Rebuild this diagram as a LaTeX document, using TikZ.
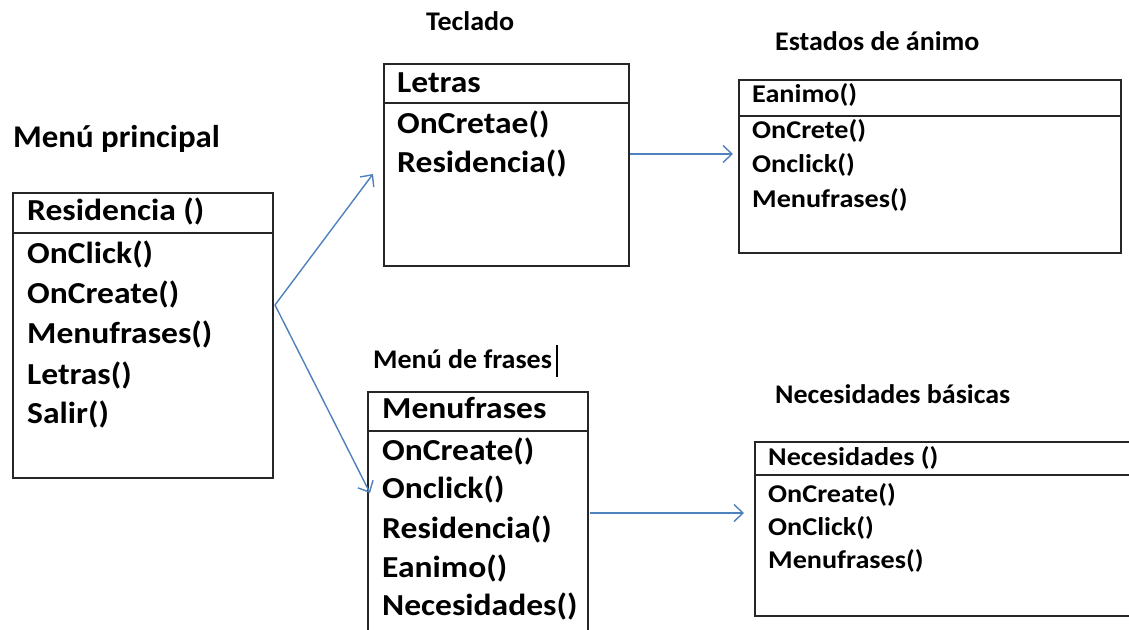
\documentclass[tikz,border=0pt]{standalone}
\usepackage{fontspec}
\usetikzlibrary{arrows.meta}
\newfontfamily\boxfont[FakeStretch=1.1]{Carlito}
\newfontfamily\ttlfont[FakeStretch=1.04]{Carlito}
\definecolor{arrblue}{RGB}{79,129,189}
\tikzset{
  classbox/.style={draw=black!85, line width=1.5pt, anchor=north west, inner sep=0, fill=none},
  divline/.style={draw=black!85, line width=1.5pt},
  bigt/.style={anchor=base west, inner sep=0, text=black, font=\boxfont\bfseries\fontsize{30.5}{30.5}\selectfont},
  smallt/.style={anchor=base west, inner sep=0, text=black, font=\boxfont\bfseries\fontsize{25.6}{25.6}\selectfont},
  ttlbig/.style={anchor=base west, inner sep=0, text=black, font=\ttlfont\bfseries\fontsize{31.6}{31.6}\selectfont},
  ttlsmall/.style={anchor=base west, inner sep=0, text=black, font=\ttlfont\bfseries\fontsize{26.9}{26.9}\selectfont},
  arr/.style={draw=arrblue, line width=1.4pt, -{Straight Barb[length=9pt,width=17pt,line width=1.4pt]}}
}
\begin{document}
\begin{tikzpicture}[x=1pt,y=-1pt]
\clip (0,0) rectangle (1129,629);
\fill[white] (0,0) rectangle (1129,629);

% titles
\node[ttlbig] (t1) at (13,147) {Menú principal};
\node[ttlsmall] (t2) at (426,30) {Teclado};
\node[ttlsmall] (t3) at (775,50) {Estados de ánimo};
\node[ttlsmall] (t4) at (373,368) {Menú de frases};
\node[ttlsmall] (t5) at (775,403) {Necesidades básicas};
\coordinate (cur1) at (557,345);
\coordinate (cur2) at (557,377);
\draw[line width=2.5pt, black] (cur1) -- (cur2);

% box 1
\node[classbox, minimum width=260pt, minimum height=285pt] (b1) at (12,192) {};
\draw[divline] (b1.west |- 0,233) -- (b1.east |- 0,233);
\node[bigt] (b1h) at (27,220) {Residencia ()};
\node[bigt] (b1a) at (27,263) {OnClick()};
\node[bigt] (b1b) at (27,303) {OnCreate()};
\node[bigt] (b1c) at (27,343) {Menufrases()};
\node[bigt] (b1d) at (27,384) {Letras()};
\node[bigt] (b1e) at (27,423) {Salir()};

% box 2
\node[classbox, minimum width=245pt, minimum height=202pt] (b2) at (383,63) {};
\draw[divline] (b2.west |- 0,103) -- (b2.east |- 0,103);
\node[bigt] (b2h) at (397,92) {Letras};
\node[bigt] (b2a) at (397,133) {OnCretae()};
\node[bigt] (b2b) at (397,172) {Residencia()};

% box 3
\node[classbox, minimum width=382pt, minimum height=173pt] (b3) at (738,79) {};
\draw[divline] (b3.west |- 0,116) -- (b3.east |- 0,116);
\node[smallt] (b3h) at (752,102) {Eanimo()};
\node[smallt] (b3a) at (752,138) {OnCrete()};
\node[smallt] (b3b) at (752,172) {Onclick()};
\node[smallt] (b3c) at (752,207) {Menufrases()};

% box 4
\node[classbox, minimum width=220pt, minimum height=259pt] (b4) at (367,391) {};
\draw[divline] (b4.west |- 0,431) -- (b4.east |- 0,431);
\node[bigt] (b4h) at (382,418) {Menufrases};
\node[bigt] (b4a) at (382,460) {OnCreate()};
\node[bigt] (b4b) at (382,498) {Onclick()};
\node[bigt] (b4c) at (382,538) {Residencia()};
\node[bigt] (b4d) at (382,577) {Eanimo()};
\node[bigt] (b4e) at (382,615) {Necesidades()};

% box 5
\node[classbox, minimum width=386pt, minimum height=174pt] (b5) at (754,441) {};
\draw[divline] (b5.west |- 0,475) -- (b5.east |- 0,475);
\node[smallt] (b5h) at (768,465) {Necesidades ()};
\node[smallt] (b5a) at (768,502) {OnCreate()};
\node[smallt] (b5b) at (768,535) {OnClick()};
\node[smallt] (b5c) at (768,568) {Menufrases()};

% connectors
\coordinate (fork) at (275,305);
\coordinate (tipL) at (373,174);
\coordinate (tipM) at (370,493);
\coordinate (s3) at (630,154);
\coordinate (e3) at (733,154);
\coordinate (s4) at (590,513);
\coordinate (e4) at (744,513);
\draw[arr] (fork) -- (tipL);
\draw[arr] (fork) -- (tipM);
\draw[arr] (s3) -- (e3);
\draw[arr] (s4) -- (e4);
\end{tikzpicture}
\end{document}
